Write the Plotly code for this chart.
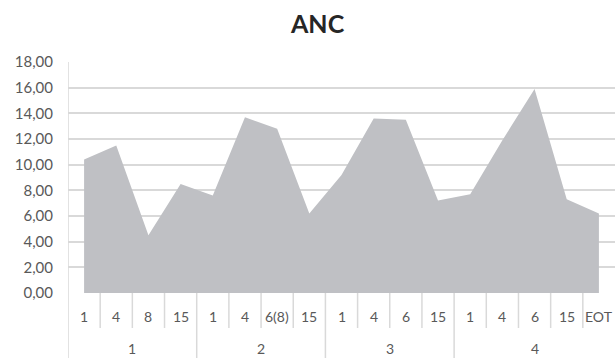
import plotly.graph_objects as go

# Cycle / day labels and ANC values
groups = ["1", "2", "3", "4"]
days = [
    ["1", "4", "8", "15"],
    ["1", "4", "6(8)", "15"],
    ["1", "4", "6", "15"],
    ["1", "4", "6", "15", "EOT"],
]
anc = [10.4, 11.5, 4.5, 8.5, 7.6, 13.7, 12.8, 6.2, 9.2,
       13.6, 13.5, 7.2, 7.7, 11.9, 15.9, 7.3, 6.2]
y_ticks = [0, 2, 4, 6, 8, 10, 12, 14, 16, 18]

W, H = 615, 358
M_L, M_R, M_T, M_B = 68, 0, 62, 65
plot_h = H - M_T - M_B

labels = [d for grp in days for d in grp]
xs = list(range(len(labels)))

FONT = "Lato"
GREY_TXT = "#595959"
LINE = "#d9d9d9"

fig = go.Figure()
fig.add_trace(go.Scatter(
    x=xs, y=anc, mode="none", fill="tozeroy",
    fillcolor="#bfc0c4", hoverinfo="skip", showlegend=False,
))

def py(px):
    """pixel offset below the plot bottom -> paper y"""
    return -px / plot_h

shapes = []
annotations = []

# left axis line running down through the label table
shapes.append(dict(type="line", xref="x", yref="paper", x0=-0.5, x1=-0.5,
                   y0=1, y1=py(M_B), line=dict(color=LINE, width=1.5)))

# day labels and separators
i = 0
for gi, grp in enumerate(days):
    start = i
    for d in grp:
        annotations.append(dict(x=i, y=py(23), xref="x", yref="paper",
                                text=d, showarrow=False,
                                font=dict(family=FONT, size=14, color=GREY_TXT),
                                xanchor="center", yanchor="middle"))
        if i > start:
            shapes.append(dict(type="line", xref="x", yref="paper",
                               x0=i - 0.5, x1=i - 0.5, y0=0, y1=py(35),
                               line=dict(color=LINE, width=1.5)))
        i += 1
    end = i - 1
    annotations.append(dict(x=(start + end) / 2, y=py(55), xref="x", yref="paper",
                            text=groups[gi], showarrow=False,
                            font=dict(family=FONT, size=14, color=GREY_TXT),
                            xanchor="center", yanchor="middle"))
    if gi < len(days) - 1:
        shapes.append(dict(type="line", xref="x", yref="paper",
                           x0=end + 0.5, x1=end + 0.5, y0=0, y1=py(M_B),
                           line=dict(color=LINE, width=1.5)))

# title
annotations.append(dict(x=(317 - M_L) / (W - M_L - M_R), y=(H - 23 - M_B) / plot_h,
                        xref="paper", yref="paper", text="<b>ANC</b>",
                        showarrow=False, xanchor="center", yanchor="middle",
                        font=dict(family=FONT, size=25, color="#262626")))

fig.update_layout(
    width=W, height=H,
    margin=dict(l=M_L, r=M_R, t=M_T, b=M_B, pad=0),
    paper_bgcolor="white", plot_bgcolor="white",
    separators=",.",
    shapes=shapes, annotations=annotations,
    xaxis=dict(range=[-0.5, len(labels) - 0.5], showticklabels=False,
               showgrid=False, zeroline=False, ticks="", fixedrange=True),
    yaxis=dict(range=[0, 18], tickvals=y_ticks, tickformat=".2f",
               showgrid=True, gridcolor=LINE, gridwidth=1.5,
               zeroline=False, ticks="", ticklabelstandoff=14,
               tickfont=dict(family=FONT, size=15, color=GREY_TXT)),
)

fig.write_html("out.html")
